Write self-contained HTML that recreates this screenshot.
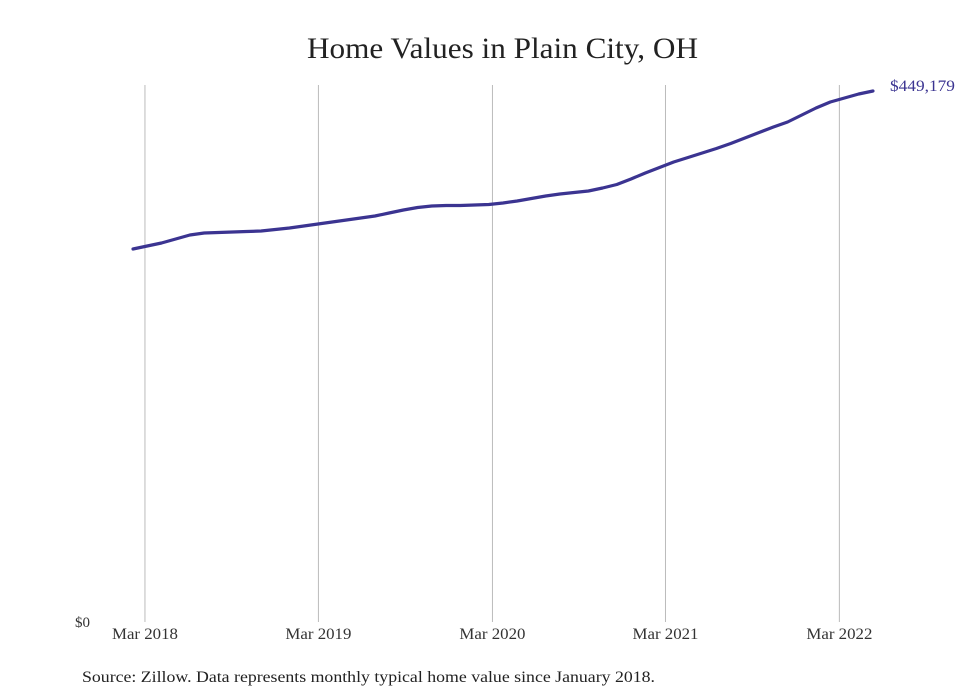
<!DOCTYPE html>
<html><head><meta charset="utf-8"><style>
body{margin:0;background:#fff;}
svg{display:block;font-family:"Liberation Serif",serif;}
</style></head><body>
<svg id="chart" width="980" height="699">
<text x="307" y="58" textLength="391" lengthAdjust="spacingAndGlyphs" font-size="30" fill="#222">Home Values in Plain City, OH</text>
<g id="grid"></g>
<g id="xlabels"></g>
<text x="75" y="627" font-size="15" fill="#333">$0</text>
<path id="line" fill="none" stroke="#3b3491" stroke-width="3.2" stroke-linejoin="round" stroke-linecap="round"></path>
<text id="endlabel" font-size="16" fill="#3b3491" textLength="65" lengthAdjust="spacingAndGlyphs"></text>
<text x="82" y="682" font-size="16" textLength="573" lengthAdjust="spacingAndGlyphs" fill="#222">Source: Zillow. Data represents monthly typical home value since January 2018.</text>
</svg>
<script>
const values = [315520,318058,320596,323980,327363,329055,329478,329901,330324,330747,332016,333285,334976,336668,338360,340052,341744,343435,345973,348511,350626,351894,352317,352317,352740,353163,354432,356124,358239,360353,362045,363314,364583,367121,370082,374734,379810,384462,389114,392921,396727,400534,404763,409416,414068,418721,422950,428871,434793,439868,443252,446635,449179];
const tickLabels = ["Mar 2018","Mar 2019","Mar 2020","Mar 2021","Mar 2022"];
const tickMonths = [0.84,13.03,25.26,37.42,49.64];
const endLabel = "$449,179";

const x0=133, dx=14.23, yBase=622, yTop=91;
const yMax = 449179;
const X = m => x0 + m*dx;
const Y = v => yBase - (v/yMax)*(yBase-yTop);
const NS="http://www.w3.org/2000/svg";
const grid=document.getElementById('grid'), xl=document.getElementById('xlabels');
tickMonths.forEach((m,i)=>{
  const l=document.createElementNS(NS,'line');
  l.setAttribute('x1',X(m));l.setAttribute('x2',X(m));
  l.setAttribute('y1',85);l.setAttribute('y2',622);
  l.setAttribute('stroke','#bbb');l.setAttribute('stroke-width','1');
  
  
  grid.appendChild(l);
  const t=document.createElementNS(NS,'text');
  t.setAttribute('x',X(m)-33);t.setAttribute('y',639);
  t.setAttribute('textLength','66');t.setAttribute('lengthAdjust','spacingAndGlyphs');
  t.setAttribute('font-size','16');t.setAttribute('fill','#333');
  t.textContent=tickLabels[i];
  
  
  xl.appendChild(t);
});
document.getElementById('line').setAttribute('d', values.map((v,i)=>(i?'L':'M')+X(i).toFixed(1)+','+Y(v).toFixed(1)).join(''));
const el=document.getElementById('endlabel');
const last=values.length-1;
el.setAttribute('x',X(last)+17);el.setAttribute('y',Y(values[last])+0);
el.textContent=endLabel;
</script>
</body></html>
